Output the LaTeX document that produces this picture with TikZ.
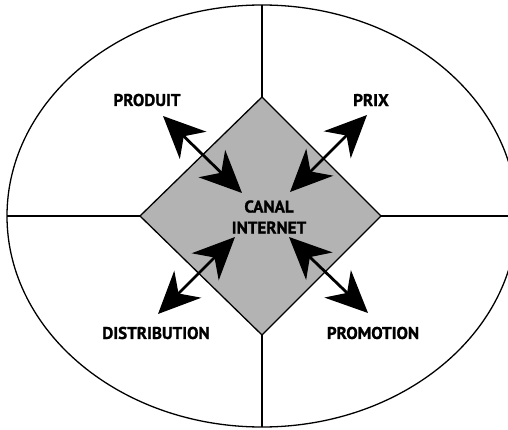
\documentclass[tikz,border=0pt]{standalone}
\usepackage{fontspec}
\setmainfont{PT Sans}
\newfontfamily\lblfont[BoldFeatures={FakeBold=1.2}]{PT Sans}
\usetikzlibrary{arrows.meta}
\definecolor{diamgrey}{HTML}{B3B3B3}
\tikzset{
  thinline/.style={draw=black, line width=1.3pt},
  lbl/.style={font=\lblfont\bfseries\fontsize{17}{21}\selectfont, inner sep=0pt, align=center},
  dblarrow/.style={line width=2.8pt, {Stealth[length=42pt,width=38pt,inset=13pt]}-{Stealth[length=42pt,width=38pt,inset=13pt]}},
}
\begin{document}
\begin{tikzpicture}[x=1pt,y=-1pt]
\useasboundingbox (0,0) rectangle (508,430);
\clip (0,0) rectangle (508,430);
% ellipse
\coordinate (c) at (262,216);
\draw[thinline] (c) ellipse [x radius=255pt, y radius=211pt];
% diamond vertices
\coordinate (dt) at (262,97);
\coordinate (dr) at (381,216);
\coordinate (db) at (262,335);
\coordinate (dl) at (140,216);
% ellipse meeting points
\coordinate (et) at (262,5);
\coordinate (eb) at (262,427);
\coordinate (el) at (7,216);
\coordinate (er) at (520,216);
\draw[thinline] (et) -- (dt);
\draw[thinline] (eb) -- (db);
\draw[thinline] (el) -- (dl);
\draw[thinline] (er) -- (dr);
\draw[thinline, fill=diamgrey] (dt) -- (dr) -- (db) -- (dl) -- cycle;
% labels
\node[lbl] (canal) at (269,217) {CANAL\\INTERNET};
\node[lbl] (produit) at (147,100) {PRODUIT};
\node[lbl] (prix) at (371,100) {PRIX};
\node[lbl] (distrib) at (156,333) {DISTRIBUTION};
\node[lbl] (promo) at (373,333) {PROMOTION};
% arrow endpoints
\coordinate (a1o) at (163,116);
\coordinate (a1i) at (242,193);
\coordinate (a2o) at (367,115);
\coordinate (a2i) at (290,192);
\coordinate (a3i) at (235,237);
\coordinate (a3o) at (158,314);
\coordinate (a4i) at (289,237);
\coordinate (a4o) at (368,313);
\draw[dblarrow] (a1o) -- (a1i);
\draw[dblarrow] (a2o) -- (a2i);
\draw[dblarrow] (a3o) -- (a3i);
\draw[dblarrow] (a4o) -- (a4i);
\end{tikzpicture}
\end{document}
